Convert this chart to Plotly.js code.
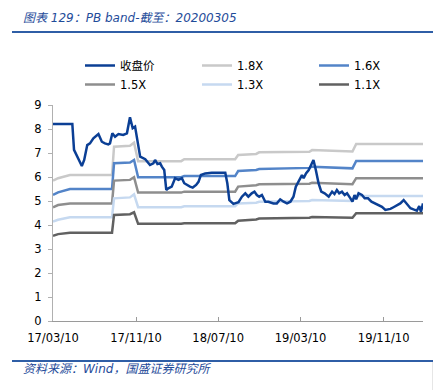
<!DOCTYPE html>
<html>
<head>
<meta charset="utf-8">
<script src="https://cdn.plot.ly/plotly-3.0.1.min.js"></script>
<style>html,body{margin:0;padding:0;background:#fff;}#chart{width:443px;height:390px;}</style>
</head>
<body>
<div id="chart"></div>
<script>
// ---- data ----
const priceDates = ["2017-03-10","2017-05-06","2017-05-11","2017-05-19","2017-06-03","2017-06-10","2017-06-19","2017-06-27","2017-07-07","2017-07-22","2017-08-01","2017-08-10","2017-08-20","2017-08-25","2017-09-01","2017-09-09","2017-09-19","2017-10-03","2017-10-14","2017-10-23","2017-10-31","2017-11-07","2017-11-14","2017-11-22","2017-12-07","2017-12-21","2017-12-31","2018-01-05","2018-01-12","2018-01-20","2018-01-25","2018-02-01","2018-02-07","2018-02-13","2018-02-23","2018-03-05","2018-03-15","2018-03-25","2018-04-01","2018-04-09","2018-04-18","2018-04-26","2018-05-06","2018-05-13","2018-05-20","2018-06-02","2018-06-21","2018-07-31","2018-08-06","2018-08-12","2018-08-24","2018-09-08","2018-09-18","2018-09-28","2018-10-07","2018-10-17","2018-10-25","2018-11-01","2018-11-08","2018-11-16","2018-11-26","2018-12-05","2018-12-20","2018-12-30","2019-01-09","2019-01-19","2019-01-29","2019-02-08","2019-02-17","2019-02-24","2019-03-06","2019-03-14","2019-03-19","2019-03-26","2019-04-03","2019-04-11","2019-04-17","2019-04-24","2019-05-02","2019-05-10","2019-05-20","2019-06-01","2019-06-11","2019-06-18","2019-06-25","2019-07-02","2019-07-10","2019-07-18","2019-07-25","2019-08-04","2019-08-10","2019-08-16","2019-08-21","2019-08-28","2019-09-07","2019-09-15","2019-09-25","2019-10-05","2019-10-14","2019-10-26","2019-11-05","2019-11-15","2019-11-30","2019-12-09","2019-12-19","2019-12-29","2020-01-08","2020-01-18","2020-01-28","2020-02-06","2020-02-16","2020-02-23","2020-02-28","2020-03-05"];
const closePrice = [8.21,8.21,7.13,6.92,6.46,6.71,7.33,7.40,7.61,7.79,7.47,7.40,7.36,7.40,7.82,7.68,7.79,7.75,7.82,8.49,8.03,8.10,7.47,6.85,6.74,6.50,6.57,6.71,6.54,6.57,6.43,6.29,5.46,5.53,5.60,5.95,5.88,5.95,5.74,5.67,5.60,5.56,5.67,5.80,6.08,6.15,6.18,6.18,5.74,5.04,4.88,4.95,5.18,5.32,5.18,5.32,5.39,5.25,5.18,5.25,4.97,4.97,4.90,4.90,5.07,4.97,4.90,4.97,5.18,5.60,5.88,6.08,5.95,6.15,6.29,6.50,6.71,6.29,5.74,5.39,5.32,5.18,5.39,5.29,5.46,5.32,5.39,5.25,5.32,5.11,4.97,5.25,5.07,5.32,5.25,5.11,5.11,4.97,4.90,4.83,4.76,4.63,4.67,4.74,4.83,4.90,5.04,4.88,4.70,4.65,4.60,4.79,4.55,4.90];

const bandDates = ["2017-03-10","2017-03-25","2017-04-29","2017-08-31","2017-09-06","2017-10-23","2017-11-04","2017-11-16","2018-03-23","2018-04-01","2018-08-29","2018-09-07","2018-10-30","2018-11-08","2019-04-05","2019-04-13","2019-08-10","2019-08-21","2020-03-05"];
const band18 = [5.85,5.95,6.08,6.08,7.26,7.30,7.43,6.66,6.66,6.74,6.74,6.92,6.96,7.03,7.05,7.12,7.06,7.38,7.38];
const band16 = [5.25,5.36,5.50,5.50,6.57,6.60,6.71,5.99,5.99,6.04,6.04,6.25,6.29,6.33,6.38,6.43,6.36,6.67,6.67];
const band15 = [4.74,4.83,4.90,4.90,5.85,5.88,5.99,5.35,5.35,5.39,5.39,5.60,5.66,5.70,5.72,5.76,5.70,5.95,5.95];
const band13 = [4.14,4.22,4.32,4.32,5.11,5.15,5.28,4.74,4.74,4.78,4.78,4.90,4.93,4.97,5.00,5.04,5.00,5.21,5.21];
const band11 = [3.55,3.62,3.68,3.68,4.42,4.45,4.53,4.05,4.05,4.07,4.07,4.18,4.23,4.27,4.30,4.33,4.30,4.49,4.49];

const seriesNames = ["收盘价","1.8X","1.6X","1.5X","1.3X","1.1X"];
const xTickVals = ["2017-03-10","2017-11-10","2018-07-10","2019-03-10","2019-11-10"];
const xTickText = ["17/03/10","17/11/10","18/07/10","19/03/10","19/11/10"];
const yTickVals = [0,1,2,3,4,5,6,7,8,9];

// ---- styles ----
const colors = ["#0b3f95","#c9c9c9","#5384c8","#8e8e8e","#c6d9f0","#616161"];
const FONT = "DejaVu Sans, 'Noto Sans CJK SC', sans-serif";

const seriesY = [closePrice, band18, band16, band15, band13, band11];
const traces = seriesNames.map((n, i) => ({
  type: "scatter", mode: "lines", name: n,
  x: i === 0 ? priceDates : bandDates,
  y: seriesY[i],
  line: {color: colors[i], width: 2.5},
  hoverinfo: "skip"
}));
// draw bands first, price on top, keep legend order
const order = [1,2,3,4,5,0];
const data = order.map(i => Object.assign({}, traces[i], {legendrank: i + 1}));

const L = 53, R = 20, T = 105, B = 69, W = 443, H = 390;
const pw = W - L - R, ph = H - T - B;
const px = v => (v - L) / pw;
const py = v => (H - B - v) / ph;

const layout = {
  width: W, height: H,
  margin: {l: L, r: R, t: T, b: B, pad: 0},
  paper_bgcolor: "#ffffff", plot_bgcolor: "#ffffff",
  font: {family: FONT, size: 11.5, color: "#000000"},
  showlegend: true,
  legend: {
    orientation: "h", xref: "container", yref: "container",
    x: 80 / W, y: 1 - 51 / H, xanchor: "left", yanchor: "top",
    entrywidth: 72, entrywidthmode: "pixels",
    font: {family: FONT, size: 11.5, color: "#000"},
    bgcolor: "rgba(0,0,0,0)", tracegroupgap: 0, itemwidth: 30
  },
  xaxis: {
    type: "date", range: ["2017-03-10","2020-03-05"],
    tickmode: "array", tickvals: xTickVals, ticktext: xTickText,
    showgrid: false, zeroline: false, showline: true, linecolor: "#9a9a9a", linewidth: 1,
    ticks: "inside", ticklen: 4, tickcolor: "#9a9a9a",
    tickfont: {family: FONT, size: 11.5, color: "#000"}, ticklabelstandoff: 6
  },
  yaxis: {
    range: [0, 9], tickmode: "array", tickvals: yTickVals,
    showgrid: false, zeroline: false, showline: true, linecolor: "#b0b0b0", linewidth: 1,
    ticks: "outside", ticklen: 4, tickcolor: "#b0b0b0",
    tickfont: {family: FONT, size: 11.5, color: "#000"}, ticklabelstandoff: 4
  },
  shapes: [
    {type: "line", xref: "paper", yref: "paper", x0: px(12), x1: px(433), y0: py(32), y1: py(32), line: {color: "#2f5ea6", width: 2}},
    {type: "line", xref: "paper", yref: "paper", x0: px(12), x1: px(433), y0: py(361), y1: py(361), line: {color: "#2f5ea6", width: 2}},
    {type: "line", xref: "paper", yref: "paper", x0: px(432.5), x1: px(432.5), y0: py(362), y1: py(390), line: {color: "#e6e6e6", width: 1}}
  ],
  annotations: [
    {xref: "paper", yref: "paper", x: px(21), y: py(18), xanchor: "left", yanchor: "middle", showarrow: false,
     text: "<i>图表 129：PB band-截至：20200305</i>",
     font: {family: "'DejaVu Sans', 'Noto Sans CJK SC', sans-serif", size: 12, color: "#1f4c9a"}},
    {xref: "paper", yref: "paper", x: px(21), y: py(369), xanchor: "left", yanchor: "middle", showarrow: false,
     text: "<i>资料来源：Wind，国盛证券研究所</i>",
     font: {family: "'DejaVu Sans', 'Noto Sans CJK SC', sans-serif", size: 12, color: "#1f4c9a"}}
  ]
};

Plotly.newPlot("chart", data, layout, {displayModeBar: false, staticPlot: true});
</script>
</body>
</html>
